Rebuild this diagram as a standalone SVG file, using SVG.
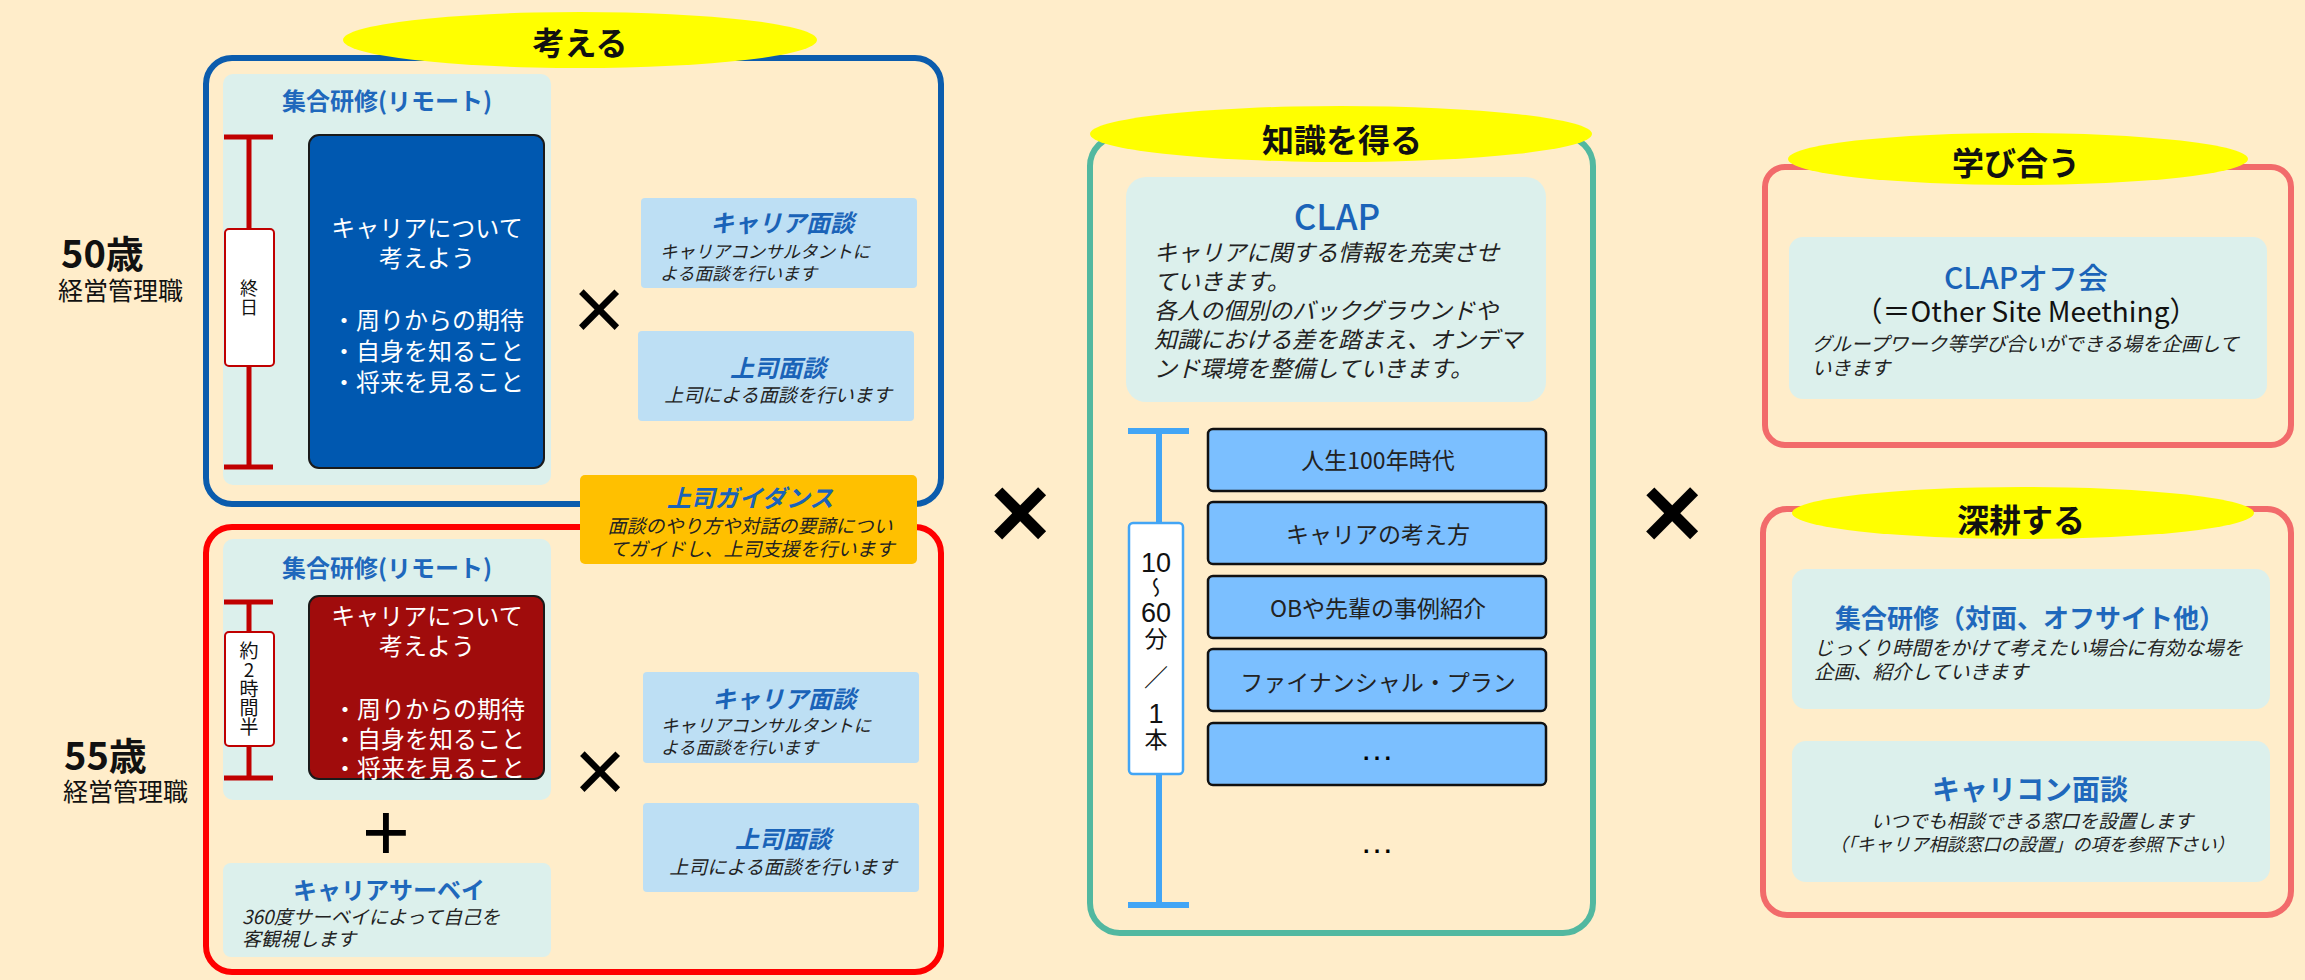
<svg xmlns="http://www.w3.org/2000/svg" width="2305" height="980" viewBox="0 0 2305 980">
<style>
text{font-family:"Noto Sans CJK JP","Noto Sans",sans-serif;}
.bg{fill:#FFEDCA;}
.ell{fill:#FFFF00;}
.head{font-size:32px;font-weight:bold;fill:#111;text-anchor:middle;}
.panel{fill:#DCF0EC;}
.ptitle{font-size:24px;font-weight:bold;fill:#1F68BC;text-anchor:middle;}
.itl{font-style:italic;fill:#222;}
.ititle{font-style:italic;font-weight:bold;fill:#1A63B8;text-anchor:middle;}
.white{fill:#fff;font-size:24px;text-anchor:middle;}
.iv{fill:#BDDFF4;}
.age{font-size:38px;font-weight:bold;fill:#111;}
.role{font-size:25px;fill:#111;}
.sym{font-family:"Liberation Sans",Arial,sans-serif;fill:#000;text-anchor:middle;}
.item{fill:#7BBFFF;stroke:#111;stroke-width:2.5;}
.itemt{font-size:23px;fill:#222;text-anchor:middle;}
.vert{writing-mode:vertical-rl;text-orientation:upright;fill:#111;}
.dig{font-family:"Liberation Sans",Arial,sans-serif;font-size:27px;fill:#111;text-anchor:middle;}
</style>
<rect class="bg" x="0" y="0" width="2305" height="980"/>

<!-- Section 1: 考える -->
<g id="age50">
<text class="age" x="61" y="268">50歳</text>
<text class="role" x="58" y="300">経営管理職</text>
</g>
<g id="age55">
<text class="age" x="64" y="770">55歳</text>
<text class="role" x="63" y="801">経営管理職</text>
</g>

<g id="box50">
<rect x="206" y="58" width="735" height="446" rx="26" fill="none" stroke="#0B5CAD" stroke-width="6"/>
</g>
<g id="box55">
<rect x="206" y="527" width="735" height="445" rx="26" fill="none" stroke="#FF0000" stroke-width="6"/>
</g>

<g id="remote50">
<rect class="panel" x="223" y="74" width="328" height="411" rx="10"/>
<text class="ptitle" x="387" y="110">集合研修(リモート)</text>
<rect x="309" y="135" width="235" height="333" rx="10" fill="#0058B0" stroke="#1a1a1a" stroke-width="2"/>
<text class="white"><tspan x="427" y="237">キャリアについて</tspan><tspan x="427" y="267">考えよう</tspan><tspan x="428" y="329">・周りからの期待</tspan><tspan x="428" y="360">・自身を知ること</tspan><tspan x="428" y="391">・将来を見ること</tspan></text>
</g>

<g id="interview50">
<rect class="iv" x="641" y="198" width="276" height="90" rx="4"/>
<text class="ititle" x="782" y="232" font-size="24">キャリア面談</text>
<text class="itl" font-size="17.5"><tspan x="660" y="258">キャリアコンサルタントに</tspan><tspan x="660" y="280">よる面談を行います</tspan></text>
</g>
<g id="boss50">
<rect class="iv" x="638" y="331" width="276" height="90" rx="4"/>
<text class="ititle" x="778" y="377" font-size="24">上司面談</text>
<text class="itl" x="778" y="402" font-size="19" text-anchor="middle">上司による面談を行います</text>
</g>

<g id="remote55">
<rect class="panel" x="223" y="539" width="328" height="261" rx="10"/>
<text class="ptitle" x="387" y="577">集合研修(リモート)</text>
<rect x="309" y="596" width="235" height="183" rx="10" fill="#A00C0C" stroke="#1a1a1a" stroke-width="2"/>
<text class="white"><tspan x="427" y="625">キャリアについて</tspan><tspan x="427" y="655">考えよう</tspan><tspan x="429" y="718">・周りからの期待</tspan><tspan x="429" y="748">・自身を知ること</tspan><tspan x="429" y="777">・将来を見ること</tspan></text>
</g>

<g id="survey55">
<rect class="panel" x="223" y="863" width="328" height="94" rx="8"/>
<text x="389" y="899" font-size="24" font-weight="bold" fill="#1F68BC" text-anchor="middle">キャリアサーベイ</text>
<text class="itl" font-size="19"><tspan x="242" y="924">360度サーベイによって自己を</tspan><tspan x="242" y="946">客観視します</tspan></text>
</g>

<g id="interview55">
<rect class="iv" x="643" y="672" width="276" height="91" rx="4"/>
<text class="ititle" x="784" y="708" font-size="24">キャリア面談</text>
<text class="itl" font-size="17.5"><tspan x="661" y="732">キャリアコンサルタントに</tspan><tspan x="661" y="754">よる面談を行います</tspan></text>
</g>
<g id="boss55">
<rect class="iv" x="643" y="803" width="276" height="89" rx="4"/>
<text class="ititle" x="783" y="848" font-size="24">上司面談</text>
<text class="itl" x="783" y="874" font-size="19" text-anchor="middle">上司による面談を行います</text>
</g>

<g id="guidance">
<rect x="580" y="475" width="337" height="89" rx="5" fill="#FFC000"/>
<text class="ititle" x="750" y="507" font-size="24">上司ガイダンス</text>
<text class="itl" font-size="19" text-anchor="middle"><tspan x="750" y="533">面談のやり方や対話の要諦につい</tspan><tspan x="752" y="556">てガイドし、上司支援を行います</tspan></text>
</g>

<g id="head-kangaeru">
<ellipse class="ell" cx="580" cy="40" rx="237" ry="28"/>
<text class="head" x="580" y="55">考える</text>
</g>

<!-- timeline brackets -->
<g id="connectors">
<g stroke="#C00000" stroke-width="5" fill="none">
<line x1="249" y1="137" x2="249" y2="467"/>
<line x1="224" y1="137" x2="273" y2="137"/>
<line x1="224" y1="467" x2="273" y2="467"/>
<line x1="249" y1="602" x2="249" y2="778"/>
<line x1="224" y1="602" x2="273" y2="602"/>
<line x1="224" y1="778" x2="273" y2="778"/>
</g>
<g stroke="#42A5F5" stroke-width="6" fill="none">
<line x1="1159" y1="431" x2="1159" y2="905"/>
<line x1="1128" y1="431" x2="1189" y2="431"/>
<line x1="1128" y1="905" x2="1189" y2="905"/>
</g>
</g>

<g id="label-allday">
<rect x="225" y="229" width="49" height="137" rx="4" fill="#fff" stroke="#C00000" stroke-width="2"/>
<text class="vert" x="249" y="279" font-size="18" letter-spacing="1">終日</text>
</g>
<g id="label-2h">
<rect x="225" y="632" width="49" height="114" rx="4" fill="#fff" stroke="#C00000" stroke-width="2"/>
<text class="vert" x="249" y="641" font-size="19">約2時間半</text>
</g>

<g id="symbols">
<text class="sym" x="599" y="340" font-size="90">×</text>
<text class="sym" x="600" y="802" font-size="90">×</text>
<text class="sym" x="386" y="860" font-size="82">+</text>
<text class="sym" x="1020" y="548" font-size="104" font-weight="bold">×</text>
<text class="sym" x="1672" y="548" font-size="104" font-weight="bold">×</text>
</g>

<!-- Section 2: 知識を得る -->
<g id="box-knowledge">
<rect x="1090" y="136" width="503" height="797" rx="30" fill="none" stroke="#52B8A0" stroke-width="6"/>
</g>
<g id="clap">
<rect class="panel" x="1126" y="177" width="420" height="225" rx="20"/>
<text x="1337" y="230" font-size="35" font-weight="500" fill="#1A63B8" text-anchor="middle">CLAP</text>
<text class="itl" font-size="23"><tspan x="1154" y="261">キャリアに関する情報を充実させ</tspan><tspan x="1154" y="290">ていきます。</tspan><tspan x="1154" y="319">各人の個別のバックグラウンドや</tspan><tspan x="1154" y="348">知識における差を踏まえ、オンデマ</tspan><tspan x="1154" y="377">ンド環境を整備していきます。</tspan></text>
</g>
<g id="label-duration">
<rect x="1129" y="523" width="54" height="251" rx="4" fill="#fff" stroke="#42A5F5" stroke-width="2.5"/>
<text class="dig" x="1156" y="572">10</text>
<text class="vert" x="1156" y="577" font-size="21">〜</text>
<text class="dig" x="1156" y="622">60</text>
<text class="vert" x="1156" y="627" font-size="23">分</text>
<text x="1156" y="686" font-size="24" fill="#111" text-anchor="middle">／</text>
<text class="dig" x="1156" y="723">1</text>
<text class="vert" x="1156" y="728" font-size="23">本</text>
</g>
<g id="item1"><rect class="item" x="1208" y="429" width="338" height="62" rx="5"/><text class="itemt" x="1378" y="469" font-size="24">人生100年時代</text></g>
<g id="item2"><rect class="item" x="1208" y="502" width="338" height="62" rx="5"/><text class="itemt" x="1378" y="543">キャリアの考え方</text></g>
<g id="item3"><rect class="item" x="1208" y="576" width="338" height="62" rx="5"/><text class="itemt" x="1378" y="617" font-size="24">OBや先輩の事例紹介</text></g>
<g id="item4"><rect class="item" x="1208" y="649" width="338" height="62" rx="5"/><text class="itemt" x="1378" y="691">ファイナンシャル・プラン</text></g>
<g id="item5"><rect class="item" x="1208" y="723" width="338" height="62" rx="5"/><text class="sym" x="1377" y="760" font-size="34">…</text></g>
<g id="more"><text class="sym" x="1377" y="853" font-size="34">…</text></g>
<g id="head-knowledge">
<ellipse class="ell" cx="1341" cy="134" rx="251" ry="28"/>
<text class="head" x="1342" y="152" font-size="34">知識を得る</text>
</g>

<!-- Section 3 -->
<g id="box-manabi">
<rect x="1765" y="167" width="526" height="278" rx="20" fill="none" stroke="#F26B6B" stroke-width="6"/>
</g>
<g id="clap-off">
<rect class="panel" x="1789" y="237" width="478" height="162" rx="14"/>
<text x="2026" y="289" font-size="30" font-weight="500" fill="#1A63B8" text-anchor="middle">CLAPオフ会</text>
<text x="2026" y="322" font-size="28" fill="#111" text-anchor="middle">（＝Other Site Meething）</text>
<text class="itl" font-size="19.5"><tspan x="1812" y="351">グループワーク等学び合いができる場を企画して</tspan><tspan x="1812" y="375">いきます</tspan></text>
</g>
<g id="head-manabi">
<ellipse class="ell" cx="2018" cy="159" rx="230" ry="26"/>
<text class="head" x="2016" y="175">学び合う</text>
</g>

<g id="box-shinko">
<rect x="1763" y="509" width="528" height="406" rx="24" fill="none" stroke="#F26B6B" stroke-width="6"/>
</g>
<g id="offsite">
<rect class="panel" x="1792" y="569" width="478" height="140" rx="14"/>
<text x="2030" y="628" font-size="26" font-weight="bold" fill="#1F68BC" text-anchor="middle">集合研修（対面、オフサイト他）</text>
<text class="itl" font-size="19.5"><tspan x="1814" y="655">じっくり時間をかけて考えたい場合に有効な場を</tspan><tspan x="1814" y="679">企画、紹介していきます</tspan></text>
</g>
<g id="caricon">
<rect class="panel" x="1792" y="741" width="478" height="141" rx="14"/>
<text x="2030" y="800" font-size="28" font-weight="bold" fill="#1F68BC" text-anchor="middle">キャリコン面談</text>
<text class="itl" text-anchor="middle"><tspan x="2032" y="828" font-size="19">いつでも相談できる窓口を設置します</tspan><tspan x="2032" y="851" font-size="18">（「キャリア相談窓口の設置」の項を参照下さい）</tspan></text>
</g>
<g id="head-shinko">
<ellipse class="ell" cx="2023" cy="513" rx="231" ry="26"/>
<text class="head" x="2021" y="532">深耕する</text>
</g>
</svg>
